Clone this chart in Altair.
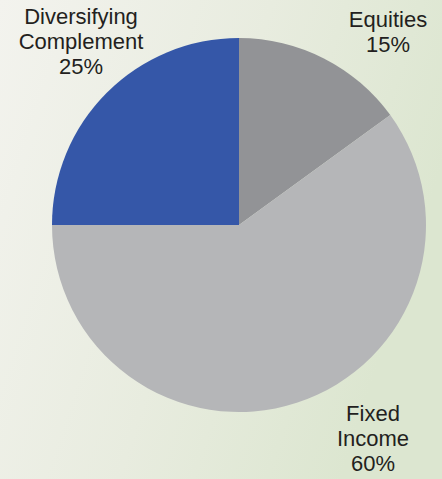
import altair as alt
import pandas as pd

# ---- data ----
categories = ["Equities", "Fixed Income", "Diversifying Complement"]
values = [15, 60, 25]
colors = ["#929396", "#b5b6b8", "#3557a8"]

df = pd.DataFrame({
    "category": categories,
    "value": values,
    "order": list(range(len(categories))),
})

# ---- layout (annotation anchors, not data) ----
W, H = 442, 479
CX, CY, R = 239, 225, 187
label_pos = {
    "Equities": (388, 27),
    "Fixed Income": (373, 421),
    "Diversifying Complement": (81, 24),
}

bg = alt.Chart(pd.DataFrame({"a": [0]})).mark_rect(
    fill=alt.Gradient(
        gradient="linear",
        stops=[
            alt.GradientStop(color="#f3f3ee", offset=0),
            alt.GradientStop(color="#e8ecdf", offset=0.55),
            alt.GradientStop(color="#dce6d0", offset=1),
        ],
        x1=0, y1=0, x2=1, y2=0.35,
    )
).encode(x=alt.value(0), x2=alt.value(W), y=alt.value(0), y2=alt.value(H))

pie = alt.Chart(df).mark_arc(outerRadius=R).encode(
    theta=alt.Theta("value:Q", stack=True),
    color=alt.Color("category:N",
                    scale=alt.Scale(domain=categories, range=colors),
                    legend=None),
    order=alt.Order("order:Q"),
    x=alt.value(CX),
    y=alt.value(CY),
)

layers = [bg, pie]
for cat, val in zip(categories, values):
    lx, ly = label_pos[cat]
    txt = cat.replace(" ", "\n") + f"\n{val}%"
    layers.append(
        alt.Chart(pd.DataFrame({"t": [txt]})).mark_text(
            font="Liberation Sans", fontSize=22, color="#231f20",
            align="center", baseline="alphabetic", lineBreak="\n",
            lineHeight=25,
        ).encode(text="t:N", x=alt.value(lx), y=alt.value(ly))
    )

chart = alt.layer(*layers).properties(
    width=W, height=H, padding=0,
    autosize=alt.AutoSizeParams(type="none"),
).configure_view(stroke=None).configure(background="#eef0e6")

chart.save("out.html", embed_options={"renderer": "svg", "actions": False})
